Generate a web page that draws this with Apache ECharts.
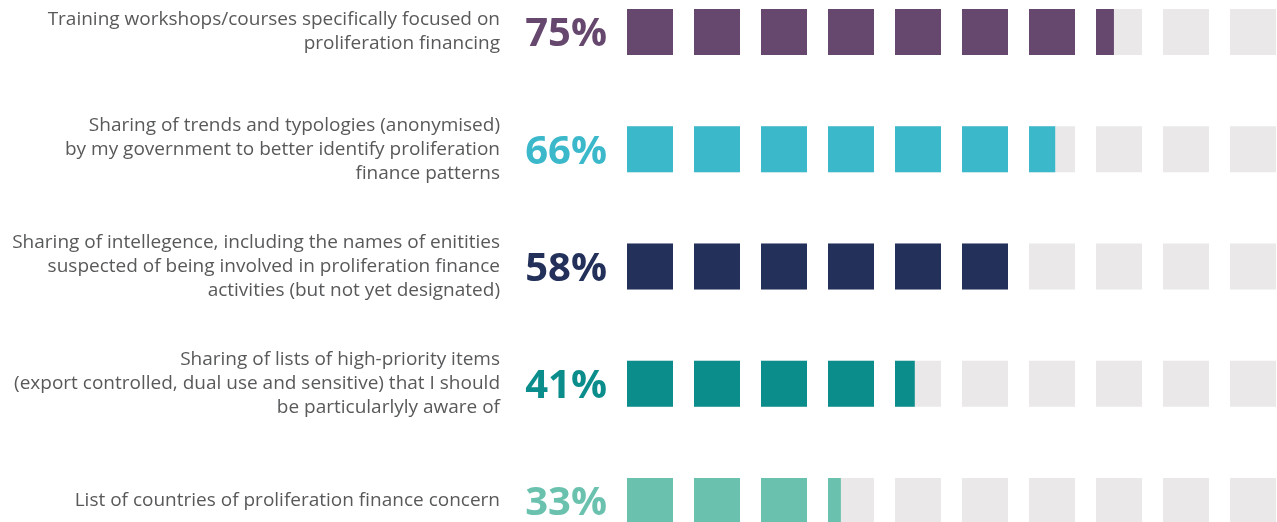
<!DOCTYPE html>
<html>
<head>
<meta charset="utf-8">
<script src="https://cdn.jsdelivr.net/npm/echarts@6/dist/echarts.min.js"></script>
<style>
html,body{margin:0;padding:0;background:#fff;}
#chart{width:1277px;height:522px;}
</style>
</head>
<body>
<div id="chart"></div>
<script>
var chart = echarts.init(document.getElementById('chart'));

// labels for each row (top to bottom)
var labels = [
    'Training workshops/courses specifically focused on\nproliferation financing',
    'Sharing of trends and typologies (anonymised)\nby my government to better identify proliferation\nfinance patterns',
    'Sharing of intellegence, including the names of enitities\nsuspected of being involved in proliferation finance\nactivities (but not yet designated)',
    'Sharing of lists of high-priority items\n(export controlled, dual use and sensitive) that I should\nbe particularlyly aware of',
    'List of countries of proliferation finance concern'
];
var percents = [75, 66, 58, 41, 33];
// how many of the 10 squares are coloured
var filled = [7.39, 6.57, 6, 4.43, 3.28];
var colors = ['#66486f', '#3bb9cb', '#22305a', '#0b8d8c', '#6ac1ae'];
var totalSquares = 10;

var sq = 46 / 67;   // square width as share of the pitch

function renderRow(params, api) {
    var row = api.value(0);
    var fill = api.value(1);
    var pitch = api.size([1, 0])[0];
    var w = pitch * sq;
    var center = api.coord([0, row]);
    var top = center[1] - w / 2;
    var children = [];
    for (var k = 0; k < totalSquares; k++) {
        var x0 = api.coord([k, row])[0];
        children.push({
            type: 'rect',
            shape: {x: x0, y: top, width: w, height: w},
            style: {fill: '#eae8e9'}
        });
        var part = Math.max(0, Math.min(1, fill - k));
        if (part > 0) {
            children.push({
                type: 'rect',
                shape: {x: x0, y: top, width: w * part, height: w},
                style: {fill: colors[row]}
            });
        }
    }
    children.push({
        type: 'text',
        x: center[0] - 20,
        y: center[1] + 3,
        style: {
            text: percents[row] + '%',
            fill: colors[row],
            font: 'bold 40px "Open Sans"',
            align: 'right',
            verticalAlign: 'middle'
        }
    });
    return {type: 'group', children: children};
}

var seriesData = filled.map(function (f, i) { return [i, f]; });

var option = {
    animation: false,
    grid: {left: 627, top: 32, right: 1, height: 469},
    xAxis: {
        type: 'value', min: 0, max: totalSquares - 1 + sq, show: false
    },
    yAxis: {
        type: 'value', min: 0, max: 4, interval: 1, inverse: true,
        axisLine: {show: false}, axisTick: {show: false}, splitLine: {show: false},
        axisLabel: {
            margin: 127,
            color: '#58595b',
            fontFamily: 'Open Sans',
            fontSize: 19,
            lineHeight: 24,
            padding: [4, 0, 0, 0],
            align: 'right',
            formatter: function (v) { return labels[v]; }
        }
    },
    series: [{
        type: 'custom',
        renderItem: renderRow,
        data: seriesData,
        clip: false
    }]
};
chart.setOption(option);
</script>
</body>
</html>
